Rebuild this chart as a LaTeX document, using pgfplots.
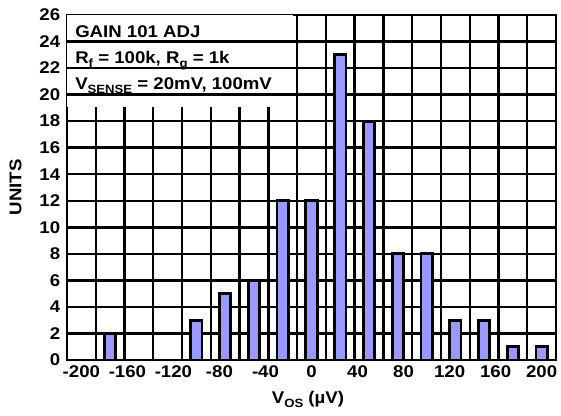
\documentclass[border=0pt]{standalone}
\usepackage{pgfplots}
\pgfplotsset{compat=1.18}
\usepackage{fontspec}
\setmainfont{Liberation Sans}
\newfontfamily\bfont{Liberation Sans Bold}[FakeStretch=1.1]
\definecolor{barblue}{HTML}{9999FF}
\newcommand\sub[1]{\raisebox{-4bp}{\fontsize{12}{12}\selectfont #1}}
\newcommand\lfont{\bfont\fontsize{17}{17}\selectfont}
\begin{document}
\begin{tikzpicture}
\begin{axis}[
  at={(0,0)}, anchor=south west,
  scale only axis, width=489bp, height=345bp,
  xmin=-212.5, xmax=212.5, ymin=0, ymax=26,
  xtick={-200,-160,...,200},
  minor xtick={-187.5,-162.5,...,187.5},
  ytick={0,2,...,26},
  ymajorgrids, xminorgrids,
  grid style={black, line width=2.4bp},
  minor grid style={black, line width=2.4bp},
  major grid style={black, line width=2.4bp},
  axis line style={black, line width=2.4bp},
  xtick style={draw=none},
  ytick style={black, line width=2.4bp},
  major tick length=4bp,
  tick align=inside,
  ticklabel style={font=\lfont},
  xticklabel style={yshift=-2.3bp},
  yticklabel style={xshift=-3.3bp},
  /pgf/number format/assume math mode=true,
  label style={font=\lfont},
  xlabel={V\sub{OS} (µV)},
  ylabel={UNITS},
  xlabel style={at={(axis description cs:0.4928,0)}, anchor=base, yshift=-43bp},
  ylabel style={at={(axis description cs:-0.1053,0.5)}, anchor=center},
]
\fill[white] (axis cs:-212.5,26) rectangle (axis cs:-16,19.07);
\draw[black, line width=2.4bp] (axis cs:-212.5,20) -- ++(4bp,0)
  (axis cs:-212.5,22) -- ++(4bp,0) (axis cs:-212.5,24) -- ++(4bp,0);
\addplot[ybar, bar width=11.3bp, bar shift=0pt, fill=barblue, draw=black, line width=2.8bp]
coordinates {(-175,2) (-100,3) (-75,5) (-50,6) (-25,12) (0,12) (25,23) (50,18) (75,8) (100,8) (125,3) (150,3) (175,1) (200,1)};
\node[anchor=base west, inner sep=0, font=\lfont] at (axis cs:-205.5,24.34) {GAIN 101 ADJ};
\node[anchor=base west, inner sep=0, font=\lfont] at (axis cs:-205.5,22.38) {R\sub{f} = 100k, R\sub{g} = 1k};
\node[anchor=base west, inner sep=0, font=\lfont] at (axis cs:-205.5,20.35) {V\sub{SENSE} = 20mV, 100mV};
\end{axis}
\pgfresetboundingbox
\path (-67bp,-56bp) rectangle (494bp,360bp);
\end{tikzpicture}
\end{document}
